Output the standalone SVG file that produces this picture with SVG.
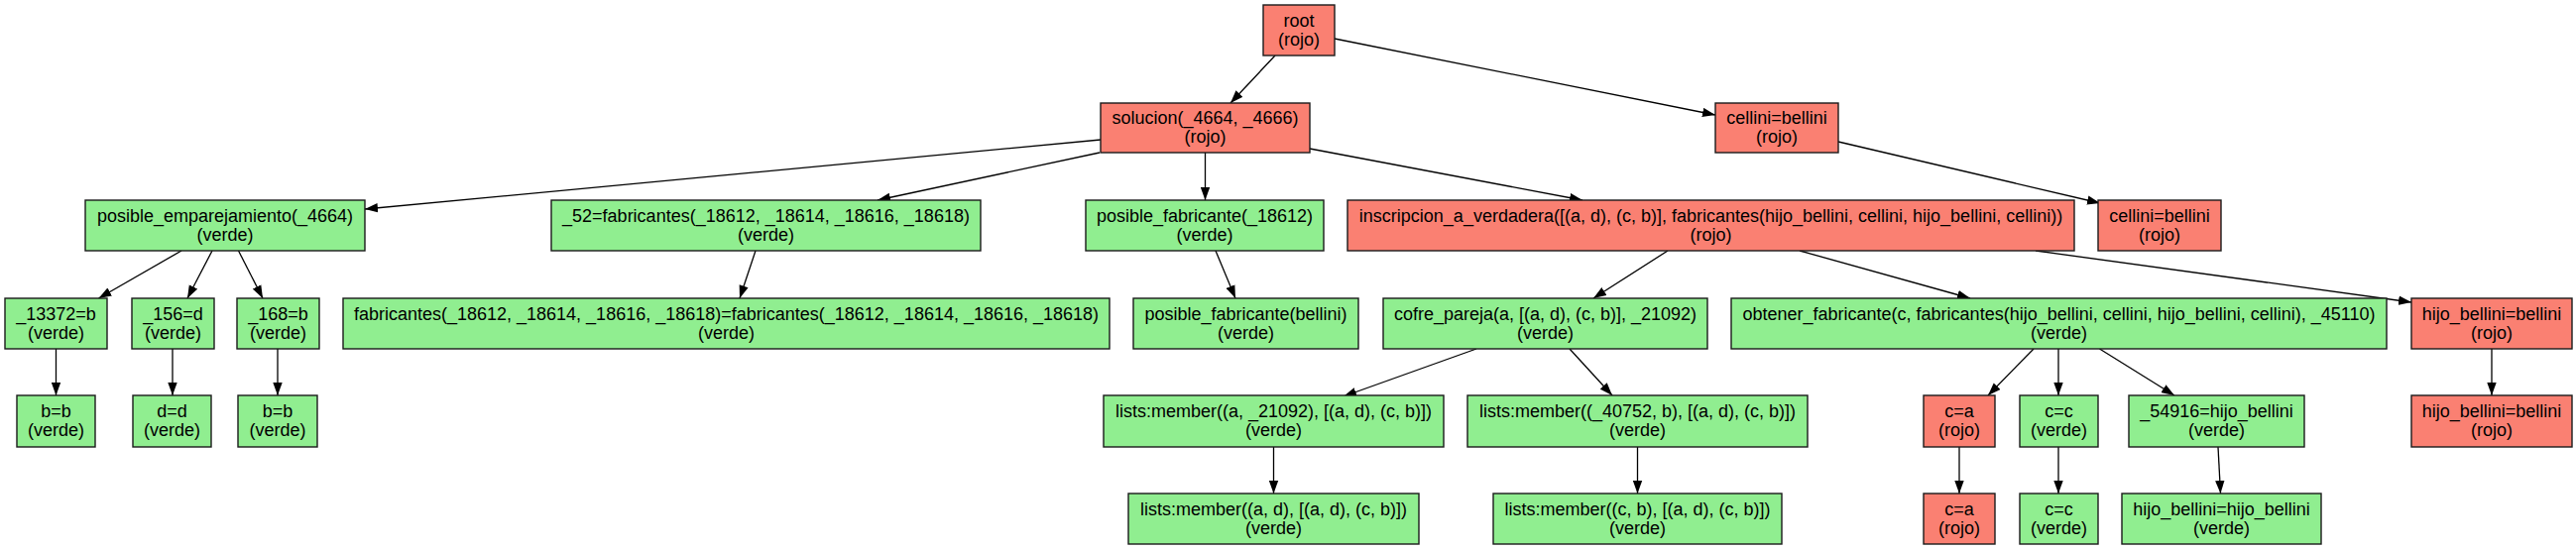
<svg xmlns="http://www.w3.org/2000/svg" width="2598" height="555" viewBox="0 0 2598 555">
<defs>
<style>
.n rect{stroke:#1a1a1a;stroke-width:1.4}
.r rect{fill:#FA8072}
.g rect{fill:#90EE90}
text{font-family:"Liberation Sans",Arial,sans-serif;font-size:18px;fill:#000;text-anchor:middle}
.e line{stroke:#000;stroke-width:1.3;marker-end:url(#ah)}
</style>
<marker id="ah" viewBox="0 0 13 10" refX="13" refY="5" markerWidth="13" markerHeight="10" markerUnits="userSpaceOnUse" orient="auto">
<path d="M0,0.3 L13,5 L0,9.7 z" fill="#000"/>
</marker>
</defs>
<rect width="2598" height="555" fill="#fff"/>
<g id="edges" class="e">
<line x1="1286" y1="56" x2="1241" y2="104"/>
<line x1="1346" y1="39" x2="1730" y2="116"/>
<line x1="1110" y1="141" x2="368" y2="211"/>
<line x1="1109" y1="154" x2="885" y2="202"/>
<line x1="1215.5" y1="154" x2="1215.5" y2="202"/>
<line x1="1321" y1="150" x2="1596" y2="202"/>
<line x1="1854" y1="143" x2="2118" y2="205"/>
<line x1="183" y1="253" x2="99.5" y2="301"/>
<line x1="214" y1="253" x2="189" y2="301"/>
<line x1="240.5" y1="253" x2="265" y2="301"/>
<line x1="762" y1="253" x2="746" y2="301"/>
<line x1="1226" y1="253" x2="1246" y2="301"/>
<line x1="1682" y1="253" x2="1607" y2="301"/>
<line x1="1815" y1="253" x2="1987" y2="301"/>
<line x1="2053" y1="253" x2="2432" y2="305"/>
<line x1="56.5" y1="352" x2="56.5" y2="399"/>
<line x1="174" y1="352" x2="174" y2="399"/>
<line x1="280" y1="352" x2="280" y2="399"/>
<line x1="1489" y1="352" x2="1355" y2="400"/>
<line x1="1583" y1="352" x2="1626" y2="399"/>
<line x1="2051" y1="352" x2="2005" y2="399"/>
<line x1="2076" y1="352" x2="2076" y2="399"/>
<line x1="2117.5" y1="352" x2="2193" y2="399"/>
<line x1="2513" y1="352" x2="2513" y2="399"/>
<line x1="1284.5" y1="451" x2="1284.5" y2="498"/>
<line x1="1651.5" y1="451" x2="1651.5" y2="498"/>
<line x1="1976" y1="451" x2="1976" y2="498"/>
<line x1="2076" y1="451" x2="2076" y2="498"/>
<line x1="2237" y1="451" x2="2239.5" y2="498"/>
</g>
<g id="root" class="n r"><rect x="1274" y="5" width="72" height="51"/><text x="1310" y="26.5">root</text><text x="1310" y="45.5">(rojo)</text></g>
<g id="solucion" class="n r"><rect x="1110" y="104" width="211" height="50"/><text x="1215.5" y="125">solucion(_4664, _4666)</text><text x="1215.5" y="144">(rojo)</text></g>
<g id="cellini1" class="n r"><rect x="1730" y="104" width="124" height="50"/><text x="1792" y="125">cellini=bellini</text><text x="1792" y="144">(rojo)</text></g>
<g id="pe" class="n g"><rect x="86" y="202" width="282" height="51"/><text x="227" y="223.5">posible_emparejamiento(_4664)</text><text x="227" y="242.5">(verde)</text></g>
<g id="f52" class="n g"><rect x="556" y="202" width="433" height="51"/><text x="772.5" y="223.5">_52=fabricantes(_18612, _18614, _18616, _18618)</text><text x="772.5" y="242.5">(verde)</text></g>
<g id="pf1" class="n g"><rect x="1095" y="202" width="240" height="51"/><text x="1215" y="223.5">posible_fabricante(_18612)</text><text x="1215" y="242.5">(verde)</text></g>
<g id="insc" class="n r"><rect x="1359" y="202" width="733" height="51"/><text x="1725.5" y="223.5">inscripcion_a_verdadera([(a, d), (c, b)], fabricantes(hijo_bellini, cellini, hijo_bellini, cellini))</text><text x="1725.5" y="242.5">(rojo)</text></g>
<g id="cellini2" class="n r"><rect x="2116" y="202" width="124" height="51"/><text x="2178" y="223.5">cellini=bellini</text><text x="2178" y="242.5">(rojo)</text></g>
<g id="n13372" class="n g"><rect x="5" y="301" width="103" height="51"/><text x="56.5" y="322.5">_13372=b</text><text x="56.5" y="341.5">(verde)</text></g>
<g id="n156" class="n g"><rect x="133" y="301" width="83" height="51"/><text x="174.5" y="322.5">_156=d</text><text x="174.5" y="341.5">(verde)</text></g>
<g id="n168" class="n g"><rect x="239" y="301" width="83" height="51"/><text x="280.5" y="322.5">_168=b</text><text x="280.5" y="341.5">(verde)</text></g>
<g id="fabeq" class="n g"><rect x="346" y="301" width="773" height="51"/><text x="732.5" y="322.5">fabricantes(_18612, _18614, _18616, _18618)=fabricantes(_18612, _18614, _18616, _18618)</text><text x="732.5" y="341.5">(verde)</text></g>
<g id="pf2" class="n g"><rect x="1143" y="301" width="227" height="51"/><text x="1256.5" y="322.5">posible_fabricante(bellini)</text><text x="1256.5" y="341.5">(verde)</text></g>
<g id="cofre" class="n g"><rect x="1395" y="301" width="327" height="51"/><text x="1558.5" y="322.5">cofre_pareja(a, [(a, d), (c, b)], _21092)</text><text x="1558.5" y="341.5">(verde)</text></g>
<g id="obtener" class="n g"><rect x="1746" y="301" width="661" height="51"/><text x="2076.5" y="322.5">obtener_fabricante(c, fabricantes(hijo_bellini, cellini, hijo_bellini, cellini), _45110)</text><text x="2076.5" y="341.5">(verde)</text></g>
<g id="hb1" class="n r"><rect x="2432" y="301" width="162" height="51"/><text x="2513" y="322.5">hijo_bellini=bellini</text><text x="2513" y="341.5">(rojo)</text></g>
<g id="bb1" class="n g"><rect x="17" y="399" width="79" height="52"/><text x="56.5" y="421">b=b</text><text x="56.5" y="440">(verde)</text></g>
<g id="dd" class="n g"><rect x="134" y="399" width="79" height="52"/><text x="173.5" y="421">d=d</text><text x="173.5" y="440">(verde)</text></g>
<g id="bb2" class="n g"><rect x="240" y="399" width="80" height="52"/><text x="280" y="421">b=b</text><text x="280" y="440">(verde)</text></g>
<g id="lm1" class="n g"><rect x="1113" y="399" width="343" height="52"/><text x="1284.5" y="421">lists:member((a, _21092), [(a, d), (c, b)])</text><text x="1284.5" y="440">(verde)</text></g>
<g id="lm2" class="n g"><rect x="1480" y="399" width="343" height="52"/><text x="1651.5" y="421">lists:member((_40752, b), [(a, d), (c, b)])</text><text x="1651.5" y="440">(verde)</text></g>
<g id="ca1" class="n r"><rect x="1940" y="399" width="72" height="52"/><text x="1976" y="421">c=a</text><text x="1976" y="440">(rojo)</text></g>
<g id="cc1" class="n g"><rect x="2037" y="399" width="79" height="52"/><text x="2076.5" y="421">c=c</text><text x="2076.5" y="440">(verde)</text></g>
<g id="n54916" class="n g"><rect x="2147" y="399" width="177" height="52"/><text x="2235.5" y="421">_54916=hijo_bellini</text><text x="2235.5" y="440">(verde)</text></g>
<g id="hb2" class="n r"><rect x="2432" y="399" width="162" height="52"/><text x="2513" y="421">hijo_bellini=bellini</text><text x="2513" y="440">(rojo)</text></g>
<g id="lm3" class="n g"><rect x="1138" y="498" width="293" height="51"/><text x="1284.5" y="519.5">lists:member((a, d), [(a, d), (c, b)])</text><text x="1284.5" y="538.5">(verde)</text></g>
<g id="lm4" class="n g"><rect x="1506" y="498" width="291" height="51"/><text x="1651.5" y="519.5">lists:member((c, b), [(a, d), (c, b)])</text><text x="1651.5" y="538.5">(verde)</text></g>
<g id="ca2" class="n r"><rect x="1940" y="498" width="72" height="51"/><text x="1976" y="519.5">c=a</text><text x="1976" y="538.5">(rojo)</text></g>
<g id="cc2" class="n g"><rect x="2037" y="498" width="79" height="51"/><text x="2076.5" y="519.5">c=c</text><text x="2076.5" y="538.5">(verde)</text></g>
<g id="hbhb" class="n g"><rect x="2140" y="498" width="201" height="51"/><text x="2240.5" y="519.5">hijo_bellini=hijo_bellini</text><text x="2240.5" y="538.5">(verde)</text></g>
</svg>
